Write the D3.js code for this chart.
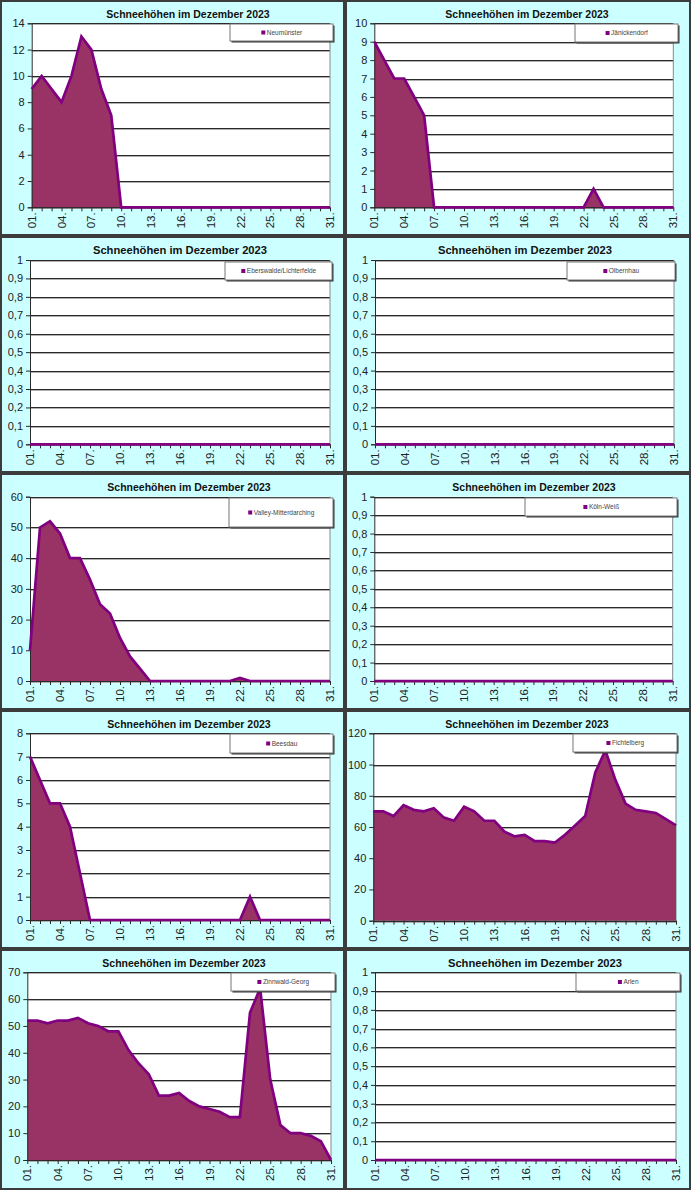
<!DOCTYPE html>
<html>
<head>
<meta charset="utf-8">
<script src="https://cdn.jsdelivr.net/npm/d3@7"></script>
<style>
body { margin: 0; background: #fff; }
text { font-family: Arial, "Liberation Sans", sans-serif; }
</style>
</head>
<body>
<script>
// Tage im Dezember
var days = [1, 2, 3, 4, 5, 6, 7, 8, 9, 10, 11, 12, 13, 14, 15, 16, 17, 18, 19, 20, 21, 22, 23, 24, 25, 26, 27, 28, 29, 30, 31];
var labelDays = [1, 4, 7, 10, 13, 16, 19, 22, 25, 28, 31];

// Schneehoehen in cm
var neumuenster  = [9, 10, 9, 8, 10, 13, 12, 9, 7, 0, 0, 0, 0, 0, 0, 0, 0, 0, 0, 0, 0, 0, 0, 0, 0, 0, 0, 0, 0, 0, 0];
var jaenickendorf = [9, 8, 7, 7, 6, 5, 0, 0, 0, 0, 0, 0, 0, 0, 0, 0, 0, 0, 0, 0, 0, 0, 1, 0, 0, 0, 0, 0, 0, 0, 0];
var eberswalde   = [0, 0, 0, 0, 0, 0, 0, 0, 0, 0, 0, 0, 0, 0, 0, 0, 0, 0, 0, 0, 0, 0, 0, 0, 0, 0, 0, 0, 0, 0, 0];
var olbernhau    = [0, 0, 0, 0, 0, 0, 0, 0, 0, 0, 0, 0, 0, 0, 0, 0, 0, 0, 0, 0, 0, 0, 0, 0, 0, 0, 0, 0, 0, 0, 0];
var valley       = [10, 50, 52, 48, 40, 40, 33, 25, 22, 14, 8, 4, 0, 0, 0, 0, 0, 0, 0, 0, 0, 1, 0, 0, 0, 0, 0, 0, 0, 0, 0];
var koeln        = [0, 0, 0, 0, 0, 0, 0, 0, 0, 0, 0, 0, 0, 0, 0, 0, 0, 0, 0, 0, 0, 0, 0, 0, 0, 0, 0, 0, 0, 0, 0];
var beesdau      = [7, 6, 5, 5, 4, 2, 0, 0, 0, 0, 0, 0, 0, 0, 0, 0, 0, 0, 0, 0, 0, 0, 1, 0, 0, 0, 0, 0, 0, 0, 0];
var fichtelberg  = [70, 70, 67, 74, 71, 70, 72, 66, 64, 73, 70, 64, 64, 57, 54, 55, 51, 51, 50, 55, 61, 67, 95, 109, 90, 75, 71, 70, 69, 65, 61];
var zinnwald     = [52, 52, 51, 52, 52, 53, 51, 50, 48, 48, 41, 36, 32, 24, 24, 25, 22, 20, 19, 18, 16, 16, 55, 64, 30, 13, 10, 10, 9, 7, 0];
var arlen        = [0, 0, 0, 0, 0, 0, 0, 0, 0, 0, 0, 0, 0, 0, 0, 0, 0, 0, 0, 0, 0, 0, 0, 0, 0, 0, 0, 0, 0, 0, 0];

// y-Achsen
var ticks14  = [0, 2, 4, 6, 8, 10, 12, 14];
var ticks10  = [0, 1, 2, 3, 4, 5, 6, 7, 8, 9, 10];
var ticks1   = [0, 0.1, 0.2, 0.3, 0.4, 0.5, 0.6, 0.7, 0.8, 0.9, 1];
var ticks60  = [0, 10, 20, 30, 40, 50, 60];
var ticks8   = [0, 1, 2, 3, 4, 5, 6, 7, 8];
var ticks120 = [0, 20, 40, 60, 80, 100, 120];
var ticks70  = [0, 10, 20, 30, 40, 50, 60, 70];

var title = "Schneehöhen im Dezember 2023";

var charts = [
    { name: "Neumünster", values: neumuenster, ticks: ticks14 },
    { name: "Jänickendorf", values: jaenickendorf, ticks: ticks10 },
    { name: "Eberswalde/Lichterfelde", values: eberswalde, ticks: ticks1 },
    { name: "Olbernhau", values: olbernhau, ticks: ticks1 },
    { name: "Valley-Mitterdarching", values: valley, ticks: ticks60 },
    { name: "Köln-Weiß", values: koeln, ticks: ticks1 },
    { name: "Beesdau", values: beesdau, ticks: ticks8 },
    { name: "Fichtelberg", values: fichtelberg, ticks: ticks120 },
    { name: "Zinnwald-Georg", values: zinnwald, ticks: ticks70 },
    { name: "Arlen", values: arlen, ticks: ticks1 }
];

// Lage der Felder (Panel, Plotflaeche, Legende), relativ zum Panel
var layout = [
    { x: 0,   y: 0,   w: 345, h: 236, l: 31.7, r: 330,   t: 23.3, b: 207.3, lg: [230, 24, 103, 17],   tx: 188, ts: 10.5 },
    { x: 345, y: 0,   w: 346, h: 236, l: 29.3, r: 328.3, t: 23.3, b: 207.3, lg: [230, 24, 103, 18],   tx: 182, ts: 10.5 },
    { x: 0,   y: 236, w: 345, h: 237, l: 30,   r: 330,   t: 24,   b: 208.3, lg: [225, 26, 107, 18],   tx: 180, ts: 11.2 },
    { x: 345, y: 236, w: 346, h: 237, l: 30,   r: 329,   t: 24,   b: 208.3, lg: [222, 26, 108, 18],   tx: 180, ts: 11.2 },
    { x: 0,   y: 473, w: 345, h: 237, l: 30,   r: 330,   t: 23.7, b: 208,   lg: [229, 25, 104, 29],   tx: 189, ts: 10.5 },
    { x: 345, y: 473, w: 346, h: 237, l: 29.3, r: 327.7, t: 23.7, b: 208,   lg: [180, 25, 152, 18],   tx: 189, ts: 10.5 },
    { x: 0,   y: 710, w: 345, h: 239, l: 30,   r: 330,   t: 23.3, b: 210,   lg: [230, 24, 103, 19],   tx: 189, ts: 10.5 },
    { x: 345, y: 710, w: 346, h: 239, l: 28.3, r: 331,   t: 23.3, b: 210.7, lg: [228, 24, 104, 18],   tx: 182, ts: 10.5 },
    { x: 0,   y: 949, w: 345, h: 241, l: 27.3, r: 331,   t: 23.3, b: 211,   lg: [231, 24, 104, 18],   tx: 184, ts: 10.5 },
    { x: 345, y: 949, w: 346, h: 241, l: 30,   r: 331,   t: 23.3, b: 211,   lg: [231, 24, 104, 18],   tx: 190, ts: 11.2 }
];

var svg = d3.select("body")
    .append("svg")
    .attr("width", 691)
    .attr("height", 1190);

var fmtDay = d3.format("02d");
var fmtTick = function(v) { return d3.format("~g")(v).replace(".", ","); };

charts.forEach(function(c, i) {
    var p = layout[i];
    var g = svg.append("g").attr("transform", "translate(" + p.x + "," + p.y + ")");

    // Hintergrund und Rahmen
    g.append("rect")
        .attr("x", 1).attr("y", 1)
        .attr("width", p.w - 2).attr("height", p.h - 2)
        .attr("fill", "#ccffff")
        .attr("stroke", "#3c3c3c")
        .attr("stroke-width", 2);

    var x = d3.scaleLinear().domain([1, 31]).range([p.l, p.r]);
    var y = d3.scaleLinear().domain([0, d3.max(c.ticks)]).range([p.b, p.t]);

    // Plotflaeche
    g.append("rect")
        .attr("x", p.l).attr("y", p.t)
        .attr("width", p.r - p.l).attr("height", p.b - p.t)
        .attr("fill", "#fff");

    // Gitterlinien
    g.selectAll(".grid-shadow")
        .data(c.ticks)
        .enter()
        .append("line")
        .attr("x1", p.l).attr("x2", p.r)
        .attr("y1", d => Math.round(y(d)) + 1.5)
        .attr("y2", d => Math.round(y(d)) + 1.5)
        .attr("stroke", "#b0b0b0");
    g.selectAll(".grid")
        .data(c.ticks)
        .enter()
        .append("line")
        .attr("x1", p.l).attr("x2", p.r)
        .attr("y1", d => Math.round(y(d)) + 0.5)
        .attr("y2", d => Math.round(y(d)) + 0.5)
        .attr("stroke", "#2a2a2a");

    // rechter Rand
    g.append("line")
        .attr("x1", p.r).attr("x2", p.r)
        .attr("y1", p.t).attr("y2", p.b)
        .attr("stroke", "#888");

    // Flaeche
    var area = d3.area()
        .x((d, k) => x(days[k]))
        .y0(y(0))
        .y1(d => y(d));
    var line = d3.line()
        .x((d, k) => x(days[k]))
        .y(d => y(d));

    g.append("path")
        .datum(c.values)
        .attr("d", area)
        .attr("fill", "#993366");

    // Achsen
    var yAxis = d3.axisLeft(y)
        .tickValues(c.ticks)
        .tickSize(4)
        .tickFormat(fmtTick);
    var ya = g.append("g")
        .attr("transform", "translate(" + p.l + ",0)")
        .call(yAxis);
    ya.select(".domain").attr("stroke", "#2a2a2a");
    ya.selectAll(".tick line").attr("stroke", "#2a2a2a");
    ya.selectAll(".tick text")
        .attr("font-size", "11px")
        .attr("fill", "#222")
        .attr("x", -7);

    var xAxis = d3.axisBottom(x)
        .tickValues(days)
        .tickSize(4)
        .tickSizeOuter(0)
        .tickFormat("");
    var xa = g.append("g")
        .attr("transform", "translate(0," + p.b + ")")
        .call(xAxis);
    xa.select(".domain").attr("stroke", "#2a2a2a");
    xa.selectAll(".tick line").attr("stroke", "#2a2a2a");

    g.selectAll(".xlabel")
        .data(labelDays)
        .enter()
        .append("text")
        .attr("transform", d => "translate(" + x(d) + "," + (p.b + 5) + ") rotate(-90)")
        .attr("text-anchor", "end")
        .attr("dy", "0.35em")
        .attr("font-size", "11.5px")
        .attr("fill", "#222")
        .text(d => fmtDay(d) + ".");

    // Linie oben auf der Flaeche
    g.append("path")
        .datum(c.values)
        .attr("d", line)
        .attr("fill", "none")
        .attr("stroke", "#800080")
        .attr("stroke-width", 2.7)
        .attr("stroke-linejoin", "miter");

    // Titel
    g.append("text")
        .attr("x", p.tx)
        .attr("y", 18)
        .attr("text-anchor", "middle")
        .attr("font-size", p.ts + "px")
        .attr("font-weight", "bold")
        .attr("fill", "#111")
        .text(title);

    // Legende
    var lg = p.lg;
    g.append("rect")
        .attr("x", lg[0] + 1.5).attr("y", lg[1] + 1.5)
        .attr("width", lg[2]).attr("height", lg[3])
        .attr("fill", "#333");
    g.append("rect")
        .attr("x", lg[0]).attr("y", lg[1])
        .attr("width", lg[2]).attr("height", lg[3])
        .attr("fill", "#fff")
        .attr("stroke", "#777")
        .attr("stroke-width", 1);
    var lt = g.append("text")
        .attr("x", lg[0] + lg[2] / 2 + 3)
        .attr("y", lg[1] + lg[3] / 2)
        .attr("dy", "0.35em")
        .attr("text-anchor", "middle")
        .attr("font-size", "6.5px")
        .attr("fill", "#444")
        .text(c.name);
    var tw = lt.node().getComputedTextLength();
    g.append("rect")
        .attr("x", lg[0] + lg[2] / 2 + 3 - tw / 2 - 5.5)
        .attr("y", lg[1] + lg[3] / 2 - 2)
        .attr("width", 4).attr("height", 4)
        .attr("fill", "#800080");
});
</script>
</body>
</html>
